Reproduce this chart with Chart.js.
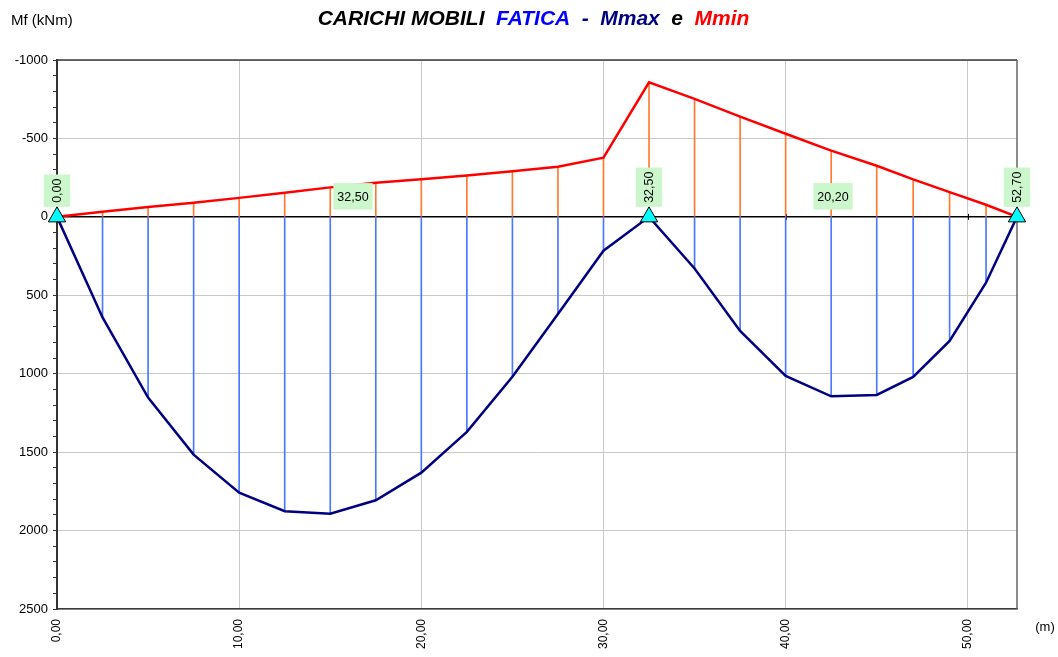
<!DOCTYPE html>
<html>
<head>
<meta charset="utf-8">
<title>Carichi mobili fatica</title>
<script src="https://cdn.jsdelivr.net/npm/chart.js@4/dist/chart.umd.min.js"></script>
<style>
  html, body { margin: 0; padding: 0; background: #fff; }
  #wrap { width: 1058px; height: 657px; }
</style>
</head>
<body>
<div id="wrap"><canvas id="c" width="1058" height="657"></canvas></div>
<script>
// Sections along the beam (m)
const stations = [0, 2.5, 5, 7.5, 10, 12.5, 15, 17.5, 20, 22.5, 25, 27.5, 30,
                  32.5, 35, 37.5, 40, 42.5, 45, 47, 49, 51, 52.7];
// Envelope of bending moment (kNm)
const mMax = [0, 641, 1152, 1516, 1758, 1877, 1892, 1807, 1631, 1371, 1020, 620, 216,
              0, 329, 727, 1014, 1144, 1135, 1020, 791, 420, 0];
const mMin = [0, -33, -63, -90, -121, -153, -188, -218, -239, -263, -291, -320, -377,
              -858, -752, -639, -530, -422, -326, -239, -158, -77, 0];
// Support abscissae (m)
const supports = [0, 32.5, 52.7];
// Title pieces and their colours
const titleParts = [
  ['CARICHI MOBILI', '#000000'],
  ['FATICA', '#0000FF'],
  ['-', '#000080'],
  ['Mmax', '#000080'],
  ['e', '#000000'],
  ['Mmin', '#FF0000']
];

const FONT = '"Liberation Sans", Arial, Helvetica, sans-serif';
Chart.defaults.font.family = FONT;
Chart.defaults.color = '#000';

const fmt = v => v.toFixed(2).replace('.', ',');

// span lengths, labelled at mid-span
const spans = supports.slice(1).map((s, i) => ({ mid: (s + supports[i]) / 2, len: s - supports[i] }));

function labelBox(ctx, cx, cy, text, rotated) {
  ctx.save();
  ctx.font = '12.5px ' + FONT;
  const tw = ctx.measureText(text).width;
  const len = tw + 8, thick = 26.5;
  ctx.translate(cx, cy);
  if (rotated) ctx.rotate(-Math.PI / 2);
  ctx.fillStyle = '#ccf7cc';
  ctx.fillRect(-len / 2, -thick / 2, len, thick);
  ctx.fillStyle = '#000';
  ctx.textAlign = 'center';
  ctx.textBaseline = 'middle';
  ctx.fillText(text, 0, 1);
  ctx.restore();
  return len;
}

const decorations = {
  id: 'decorations',
  beforeDraw(chart) {
    const ctx = chart.ctx;
    ctx.save();
    ctx.fillStyle = '#fff';
    ctx.fillRect(0, 0, chart.width, chart.height);
    ctx.restore();
  },
  beforeDatasetsDraw(chart) {
    const { ctx, chartArea: a, scales: { x, y } } = chart;
    ctx.save();
    // top and right frame of the plot area
    ctx.strokeStyle = '#3a3a3a';
    ctx.lineWidth = 1.5;
    ctx.beginPath();
    ctx.moveTo(a.left, a.top); ctx.lineTo(a.right, a.top);
    ctx.stroke();
    ctx.strokeStyle = '#666';
    ctx.beginPath();
    ctx.moveTo(a.right, a.top); ctx.lineTo(a.right, a.bottom);
    ctx.stroke();
    // beam axis (M = 0)
    const y0 = y.getPixelForValue(0);
    ctx.strokeStyle = '#000';
    ctx.lineWidth = 1.5;
    ctx.beginPath();
    ctx.moveTo(a.left, y0); ctx.lineTo(a.right, y0);
    ctx.stroke();
    ctx.lineWidth = 1;
    x.ticks.forEach(t => {
      const px = Math.round(x.getPixelForValue(t.value)) + 0.5;
      ctx.beginPath();
      ctx.moveTo(px, y0 - 3); ctx.lineTo(px, y0 + 3);
      ctx.stroke();
    });
    ctx.restore();
  },
  afterDatasetsDraw(chart) {
    const { ctx, scales: { x, y } } = chart;
    const y0 = y.getPixelForValue(0);
    // support abscissae, rotated
    supports.forEach(s => {
      ctx.save();
      ctx.font = '12.5px ' + FONT;
      const len = ctx.measureText(fmt(s)).width + 8;
      ctx.restore();
      labelBox(ctx, x.getPixelForValue(s), y0 - 10 - len / 2, fmt(s), true);
    });
    // span lengths at mid-span
    spans.forEach(sp => {
      labelBox(ctx, x.getPixelForValue(sp.mid), y0 - 20.5, fmt(sp.len), false);
    });

    ctx.save();
    // title
    ctx.font = 'italic bold 21px ' + FONT;
    ctx.textBaseline = 'alphabetic';
    ctx.textAlign = 'left';
    const gap = 11.5;
    const widths = titleParts.map(p => ctx.measureText(p[0]).width);
    const total = widths.reduce((s, w) => s + w, 0) + gap * (titleParts.length - 1);
    let tx = 533.5 - total / 2;
    titleParts.forEach((p, i) => {
      ctx.fillStyle = p[1];
      ctx.fillText(p[0], tx, 24.5);
      tx += widths[i] + gap;
    });
    // axis units
    ctx.fillStyle = '#000';
    ctx.font = '15px ' + FONT;
    ctx.textBaseline = 'middle';
    ctx.fillText('Mf (kNm)', 11, 21);
    ctx.font = '13px ' + FONT;
    ctx.textAlign = 'center';
    ctx.fillText('(m)', 1045, 627);
    ctx.restore();
  }
};

const stem = (vals) => stations.map((s, i) => ({ x: s, y: [0, vals[i]] }));
const pts = (vals) => stations.map((s, i) => ({ x: s, y: vals[i] }));

new Chart(document.getElementById('c'), {
  type: 'line',
  data: {
    datasets: [
      {
        type: 'scatter',
        data: supports.map(s => ({ x: s, y: 0 })),
        pointStyle: 'triangle',
        pointRadius: 10,
        backgroundColor: '#00ffff',
        borderColor: '#000',
        borderWidth: 1,
        clip: false,
        order: 0
      },
      {
        data: pts(mMin),
        borderColor: '#ff0000',
        borderWidth: 2.5,
        pointRadius: 0,
        tension: 0,
        order: 1
      },
      {
        data: pts(mMax),
        borderColor: '#000080',
        borderWidth: 2.5,
        pointRadius: 0,
        tension: 0,
        order: 1
      },
      {
        type: 'bar',
        data: stem(mMin),
        backgroundColor: '#ff7a30',
        barThickness: 1,
        grouped: false,
        borderWidth: 0,
        order: 2
      },
      {
        type: 'bar',
        data: stem(mMax),
        backgroundColor: '#4a78ff',
        barThickness: 1,
        grouped: false,
        borderWidth: 0,
        order: 2
      }
    ]
  },
  plugins: [decorations],
  options: {
    responsive: false,
    animation: false,
    events: [],
    layout: { padding: { top: 60, right: 41, bottom: 0, left: 0 } },
    plugins: { legend: { display: false }, tooltip: { enabled: false }, title: { display: false } },
    scales: {
      x: {
        type: 'linear',
        min: 0,
        max: 52.7,
        offset: false,
        ticks: {
          stepSize: 10,
          includeBounds: false,
          autoSkip: false,
          minRotation: 90,
          maxRotation: 90,
          padding: 10,
          font: { size: 12 },
          color: '#000',
          callback: v => fmt(v)
        },
        grid: { color: '#c8c8c8', drawTicks: false, lineWidth: 1, offset: false },
        border: { display: true, color: '#3a3a3a', width: 1.5 },
        afterFit: s => { s.height = 48; }
      },
      y: {
        type: 'linear',
        reverse: true,
        min: -1000,
        max: 2500,
        ticks: {
          stepSize: 100,
          autoSkip: false,
          padding: 5,
          font: { size: 13 },
          color: '#000',
          callback: v => (v % 500 === 0 ? String(v) : '')
        },
        grid: {
          color: c => (c.tick && c.tick.value % 500 === 0 ? '#c8c8c8' : 'rgba(0,0,0,0)'),
          tickColor: '#333',
          tickLength: 4,
          lineWidth: 1
        },
        border: { display: true, color: '#333', width: 2 },
        afterFit: s => { s.width = 57; }
      }
    }
  }
});
</script>
</body>
</html>
